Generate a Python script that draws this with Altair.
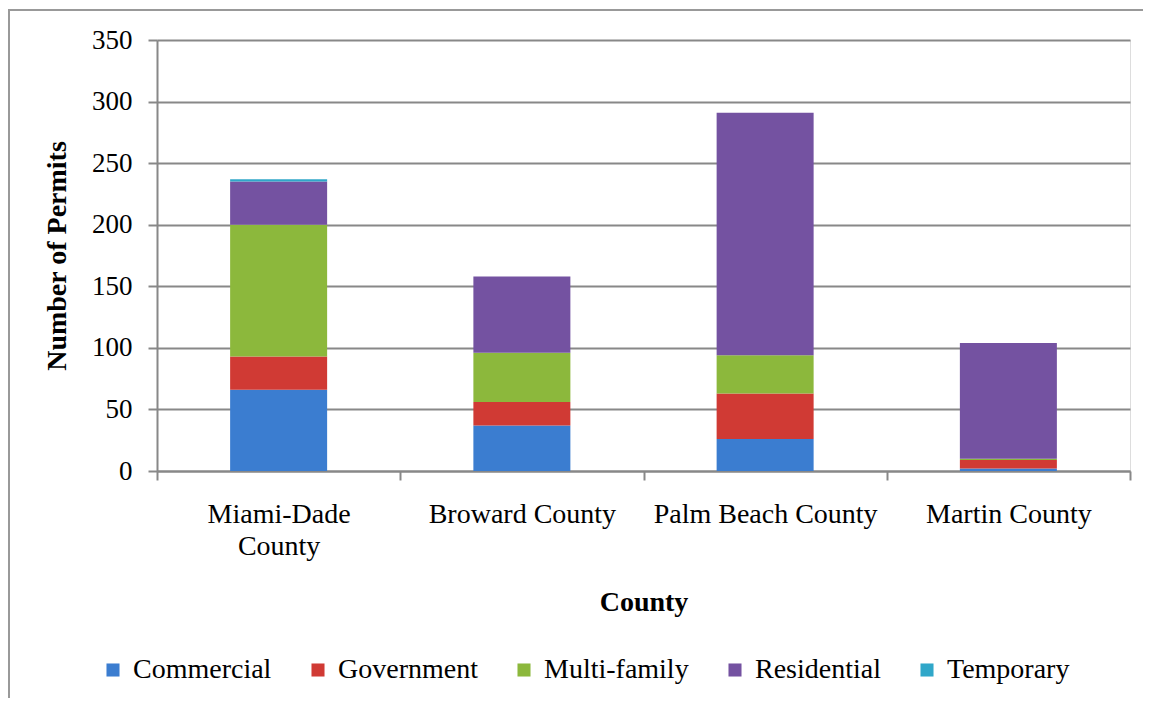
import altair as alt
import pandas as pd

counties = ["Miami-Dade County", "Broward County", "Palm Beach County", "Martin County"]
types = ["Commercial", "Government", "Multi-family", "Residential", "Temporary"]
commercial = [66, 37, 26, 2]
government = [27, 19, 37, 7]
multifamily = [107, 40, 31, 1]
residential = [35, 62, 197, 94]
temporary = [2, 0, 0, 0]
colors = ["#3B7DD0", "#D03A34", "#8CB83C", "#7452A1", "#30A7C9"]

series = [commercial, government, multifamily, residential, temporary]
rows = []
for ti, (t, vals) in enumerate(zip(types, series)):
    for c, v in zip(counties, vals):
        rows.append({"County": c, "Type": t, "Permits": v, "ord": ti})
df = pd.DataFrame(rows)

FONT = "Liberation Serif"

bars = alt.Chart(df).mark_bar(size=97).encode(
    x=alt.X("County:N", sort=counties, title="County",
            scale=alt.Scale(paddingInner=0, paddingOuter=0),
            axis=alt.Axis(labelAngle=0, tickBand="extent", labelFontSize=28,
                          labelFont=FONT, labelColor="#000", titleFont=FONT,
                          titleFontSize=28, titleFontWeight="bold", titleColor="#000",
                          titlePadding=28, labelPadding=20, domainColor="#888",
                          domainWidth=2, tickColor="#888", tickWidth=2, tickSize=9,
                          labelLineHeight=32, labelLimit=0,
                          labelExpr="datum.label == 'Miami-Dade County' ? ['Miami-Dade', 'County'] : datum.label")),
    y=alt.Y("Permits:Q", title="Number of Permits",
            scale=alt.Scale(domain=[0, 350]),
            axis=alt.Axis(values=[0, 50, 100, 150, 200, 250, 300, 350], labelFontSize=27,
                          labelFont=FONT, labelColor="#000", titleFont=FONT,
                          titleFontSize=28, titleFontWeight="bold", titleColor="#000",
                          titlePadding=20, labelPadding=16, gridColor="#888",
                          gridWidth=2, domainColor="#888", domainWidth=2,
                          tickColor="#888", tickWidth=2, tickSize=9)),
    color=alt.Color("Type:N", sort=types,
                    scale=alt.Scale(domain=types, range=colors),
                    legend=alt.Legend(title=None, orient="none", direction="horizontal",
                                      legendX=-58, legendY=616, columns=5,
                                      symbolType="square", symbolSize=170,
                                      symbolStrokeWidth=0, labelFont=FONT,
                                      labelFontSize=28, labelColor="#000",
                                      columnPadding=32, labelOffset=6)),
    order=alt.Order("ord:Q", sort="ascending"),
)

frame_df = pd.DataFrame({"a": [0]})
frame = alt.Chart(frame_df).mark_rect(fill=None, stroke="#999", strokeWidth=2, clip=False).encode(
    x=alt.value(-148), x2=alt.value(1000), y=alt.value(-30), y2=alt.value(672)
)

chart = alt.layer(frame, bars).properties(
    width=973, height=431,
    padding={"left": 149, "top": 32, "right": 13, "bottom": 227},
    autosize=alt.AutoSizeParams(type="none"),
).configure_view(stroke=None).configure(background="white")

chart.save("out.html", embed_options={"renderer": "svg", "actions": False})
